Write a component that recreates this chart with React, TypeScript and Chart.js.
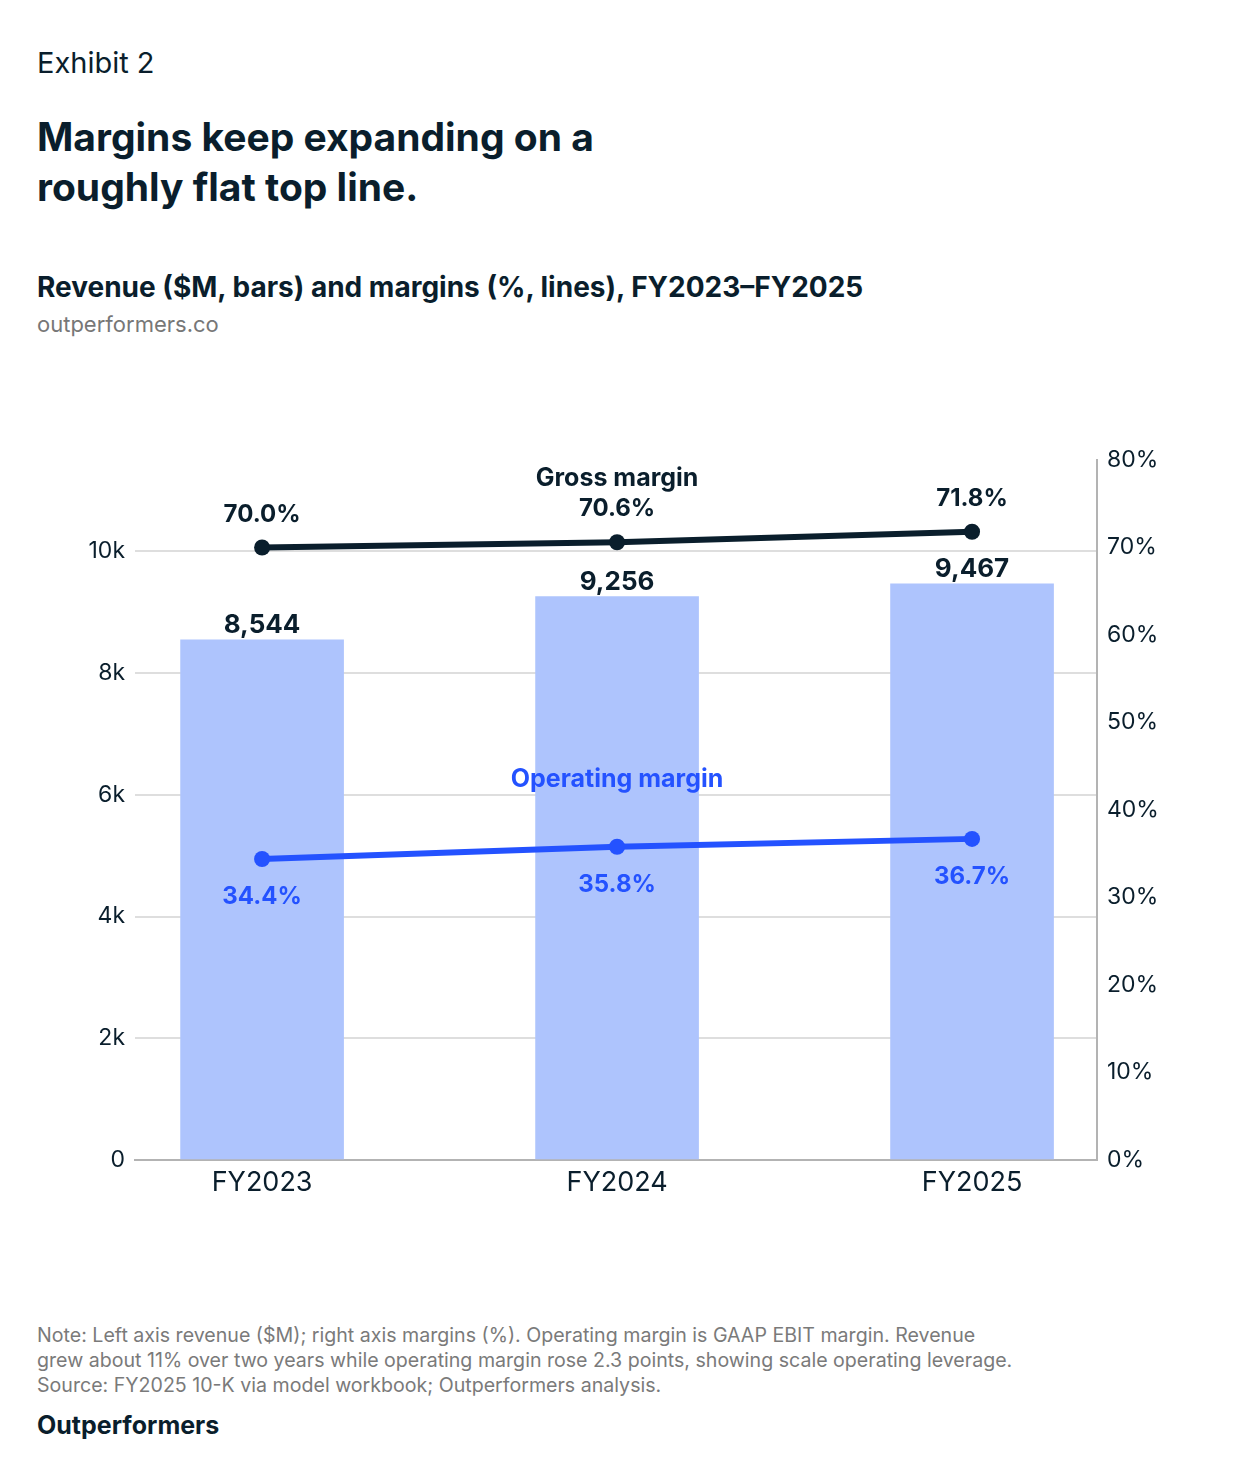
import { useEffect, useLayoutEffect, useRef } from "react";
import { Chart, registerables } from "chart.js";
Chart.register(...registerables);

const categories = ["FY2023", "FY2024", "FY2025"];
const revenue = [8544, 9256, 9467];
const grossMargin = [70.0, 70.6, 71.8];
const operatingMargin = [34.4, 35.8, 36.7];
const revenueTicks = [0, 2000, 4000, 6000, 8000, 10000];
const marginTicks = [0, 10, 20, 30, 40, 50, 60, 70, 80];

const NAVY = "#0a1e2c";
const BLUE = "#2452ff";
const BAR = "#aec4fd";
const AXIS = "#b3b3b3";
const FONT = "Inter, 'Noto Sans', sans-serif";

const labelPlugin = {
  id: "labels",
  afterDatasetsDraw(chart: Chart) {
    const ctx = chart.ctx;
    ctx.save();
    ctx.textAlign = "center";
    ctx.textBaseline = "alphabetic";
    const bars = chart.getDatasetMeta(2).data;
    ctx.fillStyle = NAVY;
    ctx.font = `700 26px ${FONT}`;
    bars.forEach((b: any, i) => ctx.fillText(revenue[i].toLocaleString("en-US"), b.x, b.y - 7));

    const gross = chart.getDatasetMeta(0).data;
    ctx.font = `700 24px ${FONT}`;
    gross.forEach((p: any, i) => ctx.fillText(grossMargin[i].toFixed(1) + "%", p.x, p.y - 26));
    ctx.font = `700 25px ${FONT}`;
    ctx.fillText("Gross margin", gross[1].x, gross[1].y - 56);

    const op = chart.getDatasetMeta(1).data;
    ctx.fillStyle = BLUE;
    ctx.font = `700 24px ${FONT}`;
    op.forEach((p: any, i) => ctx.fillText(operatingMargin[i].toFixed(1) + "%", p.x, p.y + 45));
    ctx.font = `700 25px ${FONT}`;
    ctx.fillText("Operating margin", op[1].x, op[1].y - 60);
    ctx.restore();
  },
};

function ComboChart() {
  const ref = useRef<HTMLCanvasElement>(null);
  const inst = useRef<Chart | null>(null);
  useEffect(() => {
    if (!ref.current) return;
    inst.current = new Chart(ref.current, {
      type: "bar",
      data: {
        datasets: [
          {
            type: "line",
            data: grossMargin.map((v, i) => ({ x: i, y: v })),
            yAxisID: "y2",
            borderColor: NAVY,
            backgroundColor: NAVY,
            borderWidth: 6,
            pointRadius: 8,
            pointBorderWidth: 0,
            order: 0,
          },
          {
            type: "line",
            data: operatingMargin.map((v, i) => ({ x: i, y: v })),
            yAxisID: "y2",
            borderColor: BLUE,
            backgroundColor: BLUE,
            borderWidth: 6,
            pointRadius: 8,
            pointBorderWidth: 0,
            order: 1,
          },
          {
            type: "bar",
            data: revenue.map((v, i) => ({ x: i, y: v })),
            yAxisID: "y",
            backgroundColor: BAR,
            barThickness: 163,
            order: 2,
          },
        ] as any,
      },
      options: {
        animation: false,
        responsive: false,
        maintainAspectRatio: false,
        layout: { padding: { top: 40, left: 0, right: 0, bottom: 0 } },
        plugins: { legend: { display: false }, tooltip: { enabled: false } },
        scales: {
          x: {
            type: "linear",
            offset: false,
            min: -0.358,
            max: 2.352,
            afterBuildTicks: (s: any) => { s.ticks = categories.map((_, i) => ({ value: i })); },
            afterFit: (s: any) => { s.height = 60; },
            ticks: {
              callback: (v: any) => categories[v] ?? "",
              font: { family: FONT, size: 27 },
              color: NAVY,
              padding: 7,
              maxRotation: 0,
              autoSkip: false,
            },
            grid: { display: false, drawTicks: false },
            border: { display: true, color: AXIS, width: 2 },
          },
          y: {
            position: "left",
            min: 0,
            max: 11500,
            afterBuildTicks: (s: any) => { s.ticks = revenueTicks.map((v) => ({ value: v })); },
            afterFit: (s: any) => { s.width = 135; },
            ticks: {
              callback: (v: any) => (v === 0 ? "0" : v / 1000 + "k"),
              font: { family: FONT, size: 23 },
              color: NAVY,
              padding: 10,
            },
            grid: {
              color: (c: any) => (c.tick && c.tick.value === 0 ? "rgba(0,0,0,0)" : "#dedede"),
              lineWidth: 2,
              drawTicks: false,
            },
            border: { display: false },
          },
          y2: {
            position: "right",
            min: 0,
            max: 80,
            afterBuildTicks: (s: any) => { s.ticks = marginTicks.map((v) => ({ value: v })); },
            afterFit: (s: any) => { s.width = 143; },
            ticks: {
              callback: (v: any) => v + "%",
              font: { family: FONT, size: 23 },
              color: NAVY,
              padding: 10,
            },
            grid: { display: false, drawTicks: false },
            border: { display: true, color: AXIS, width: 2 },
          },
        },
      } as any,
      plugins: [labelPlugin],
    });
    return () => inst.current?.destroy();
  }, []);
  return <canvas ref={ref} width={1240} height={800} style={{ width: 1240, height: 800 }} />;
}

export default function App() {
  useLayoutEffect(() => {
    document.body.style.margin = "0";
  }, []);
  const text = { position: "absolute" as const, left: 37, fontFamily: FONT, color: NAVY, lineHeight: 1, margin: 0 };
  return (
    <div style={{ position: "relative", width: 1240, height: 1480, background: "#fff", overflow: "hidden" }}>
      <div style={{ ...text, top: 48, fontSize: 29 }}>Exhibit 2</div>
      <div style={{ ...text, top: 112, fontSize: 39, fontWeight: 700, lineHeight: "50px" }}>
        Margins keep expanding on a<br />roughly flat top line.
      </div>
      <div style={{ ...text, top: 273, fontSize: 28, fontWeight: 700 }}>
        Revenue ($M, bars) and margins (%, lines), FY2023–FY2025
      </div>
      <div style={{ ...text, top: 313, fontSize: 22, color: "#777" }}>outperformers.co</div>
      <div style={{ position: "absolute", left: 0, top: 420 }}>
        <ComboChart />
      </div>
      <div style={{ ...text, top: 1323, fontSize: 19.6, color: "#7a7a7a", lineHeight: "25px", width: 1100 }}>
        Note: Left axis revenue ($M); right axis margins (%). Operating margin is GAAP EBIT margin. Revenue
        <br />grew about 11% over two years while operating margin rose 2.3 points, showing scale operating leverage.
        <br />Source: FY2025 10-K via model workbook; Outperformers analysis.
      </div>
      <div style={{ ...text, top: 1413, fontSize: 25, fontWeight: 700 }}>Outperformers</div>
    </div>
  );
}
